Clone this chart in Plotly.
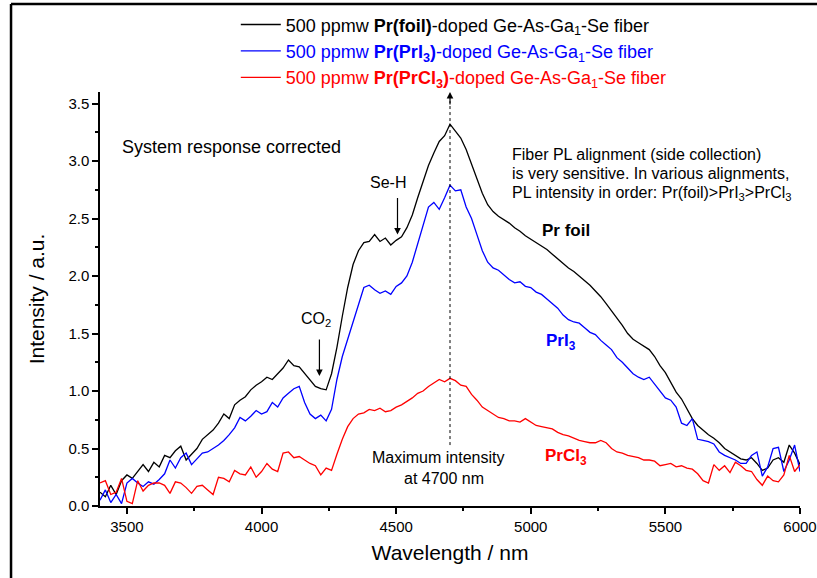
import plotly.graph_objects as go

# Wavelength grid (nm), 20 nm steps from 3400 to 6000
wavelength = list(range(3400, 6001, 20))

pr_foil = [
    0.12, 0.08, 0.18, 0.10, 0.22, 0.27, 0.24, 0.30, 0.36, 0.30,
    0.38, 0.34, 0.44, 0.42, 0.48, 0.52, 0.40, 0.45, 0.50, 0.58,
    0.62, 0.66, 0.72, 0.80, 0.76, 0.88, 0.92, 0.95, 1.01, 1.05,
    1.08, 1.12, 1.10, 1.15, 1.20, 1.27, 1.22, 1.21, 1.15, 1.10,
    1.04, 1.02, 1.01, 1.15, 1.38, 1.65, 1.90, 2.10, 2.22, 2.29,
    2.30, 2.36, 2.30, 2.33, 2.27, 2.31, 2.34, 2.42, 2.53, 2.68,
    2.83, 2.96, 3.07, 3.17, 3.22, 3.32, 3.26, 3.20, 3.10, 2.97,
    2.84, 2.72, 2.62, 2.56, 2.52, 2.49, 2.46, 2.42, 2.39, 2.35,
    2.32, 2.29, 2.26, 2.23, 2.19, 2.15, 2.11, 2.07, 2.04, 2.00,
    1.96, 1.92, 1.87, 1.82, 1.76, 1.70, 1.63, 1.57, 1.50, 1.45,
    1.42, 1.39, 1.36, 1.30, 1.22, 1.16, 1.08, 0.99, 0.93, 0.84,
    0.76, 0.70, 0.66, 0.62, 0.59, 0.55, 0.50, 0.47, 0.44, 0.41,
    0.40, 0.42, 0.37, 0.31, 0.33, 0.40, 0.42, 0.38, 0.53, 0.46, 0.36,
]

pr_pri3 = [
    0.05, 0.14, 0.03, 0.10, 0.02, 0.20, 0.24, 0.20, 0.17, 0.21,
    0.19, 0.23, 0.28, 0.40, 0.33, 0.42, 0.46, 0.36, 0.41, 0.46,
    0.47, 0.50, 0.53, 0.57, 0.62, 0.68, 0.77, 0.74, 0.78, 0.83,
    0.80, 0.82, 0.90, 0.86, 0.94, 0.98, 1.02, 1.04, 0.90, 0.80,
    0.76, 0.79, 0.74, 0.84, 1.10, 1.30, 1.45, 1.60, 1.77, 1.90,
    1.92, 1.88, 1.85, 1.87, 1.84, 1.91, 1.94, 2.00, 2.12, 2.28,
    2.45, 2.60, 2.64, 2.58, 2.68, 2.79, 2.74, 2.75, 2.60, 2.50,
    2.36, 2.22, 2.12, 2.07, 2.05, 2.01, 1.97, 1.94, 1.95, 1.91,
    1.90, 1.86, 1.84, 1.80, 1.76, 1.72, 1.66, 1.62, 1.60, 1.59,
    1.55, 1.51, 1.49, 1.44, 1.40, 1.36, 1.29, 1.25, 1.20, 1.15,
    1.12, 1.10, 1.12, 1.06, 1.00, 0.94, 0.92, 0.86, 0.72, 0.70,
    0.76, 0.58, 0.57, 0.56, 0.54, 0.47, 0.44, 0.42, 0.40, 0.37,
    0.37, 0.44, 0.47, 0.26, 0.34, 0.50, 0.51, 0.30, 0.40, 0.53, 0.30,
]

pr_prcl3 = [
    0.20, 0.22, 0.10, 0.12, 0.24, 0.04, 0.02, 0.22, 0.13, 0.18,
    0.20, 0.20, 0.18, 0.11, 0.21, 0.20, 0.16, 0.11, 0.17, 0.18,
    0.14, 0.10, 0.25, 0.24, 0.21, 0.31, 0.28, 0.27, 0.34, 0.25,
    0.30, 0.37, 0.32, 0.30, 0.46, 0.47, 0.42, 0.43, 0.40, 0.37,
    0.35, 0.27, 0.33, 0.31, 0.45, 0.58, 0.69, 0.76, 0.80, 0.81,
    0.84, 0.83, 0.85, 0.82, 0.83, 0.86, 0.88, 0.91, 0.94, 0.98,
    1.00, 1.04, 1.07, 1.10, 1.08, 1.11, 1.09, 1.05, 1.04, 0.97,
    0.92, 0.86, 0.83, 0.80, 0.77, 0.76, 0.74, 0.74, 0.73, 0.76,
    0.73, 0.70, 0.69, 0.68, 0.67, 0.64, 0.62, 0.61, 0.59, 0.57,
    0.56, 0.55, 0.55, 0.57, 0.55, 0.50, 0.47, 0.46, 0.44, 0.43,
    0.42, 0.40, 0.40, 0.39, 0.35, 0.36, 0.37, 0.34, 0.35, 0.33,
    0.32, 0.28, 0.22, 0.20, 0.36, 0.31, 0.35, 0.29, 0.38, 0.35,
    0.31, 0.30, 0.23, 0.18, 0.26, 0.22, 0.21, 0.27, 0.44, 0.30, 0.36,
]

series_names = [
    "<span style='color:black'>500 ppmw <b>Pr(foil)</b>-doped Ge-As-Ga<sub>1</sub>-Se fiber</span>",
    "<span style='color:blue'>500 ppmw <b>Pr(PrI<sub>3</sub>)</b>-doped Ge-As-Ga<sub>1</sub>-Se fiber</span>",
    "<span style='color:red'>500 ppmw <b>Pr(PrCl<sub>3</sub>)</b>-doped Ge-As-Ga<sub>1</sub>-Se fiber</span>",
]
series_colors = ["black", "blue", "red"]
series_values = [pr_foil, pr_pri3, pr_prcl3]

x_ticks = [3500, 4000, 4500, 5000, 5500, 6000]
y_ticks = [0.0, 0.5, 1.0, 1.5, 2.0, 2.5, 3.0, 3.5]

FONT = "Liberation Sans, Arial, sans-serif"

fig = go.Figure()
for name, col, vals in zip(series_names, series_colors, series_values):
    fig.add_trace(go.Scatter(x=wavelength, y=vals, mode="lines", name=name,
                             line=dict(color=col, width=1.3)))

ann = []
def txt(x, y, t, size=16, color="black", xanchor="center", bold=False):
    ann.append(dict(x=x, y=y, xref="x", yref="y", text=(f"<b>{t}</b>" if bold else t),
                    showarrow=False, xanchor=xanchor, yanchor="middle",
                    font=dict(size=size, color=color, family=FONT)))

txt(3475, 3.12, "System response corrected", size=18, xanchor="left")
txt(4922, 3.06, "Fiber PL alignment (side collection)", size=16, xanchor="left")
txt(4922, 2.89, "is very sensitive. In various alignments,", size=16, xanchor="left")
txt(4922, 2.72, "PL intensity in order: Pr(foil)&gt;PrI<sub>3</sub>&gt;PrCl<sub>3</sub>", size=16, xanchor="left")
txt(5130, 2.40, "Pr foil", size=17, bold=True)
txt(5111, 1.43, "PrI<sub>3</sub>", size=17, color="blue", bold=True)
txt(5130, 0.43, "PrCl<sub>3</sub>", size=17, color="red", bold=True)
txt(4655, 0.42, "Maximum intensity", size=16)
txt(4676, 0.24, "at 4700 nm", size=16)
txt(4204, 1.62, "CO<sub>2</sub>", size=16)
txt(4468, 2.81, "Se-H", size=16)

# arrows
for (ax_x, tip_y) in [(4215, 1.13), (4505, 2.36)]:
    ann.append(dict(x=ax_x, y=tip_y, xref="x", yref="y", text="", showarrow=True,
                    ax=0, ay=-38, arrowhead=2, arrowsize=1.1, arrowwidth=1.2,
                    arrowcolor="black"))
ann.append(dict(x=4700, y=3.6, xref="x", yref="y", text="", showarrow=True,
                ax=0, ay=14, arrowhead=2, arrowsize=1.1, arrowwidth=1.2,
                arrowcolor="black"))

shapes = [
    dict(type="line", xref="x", yref="y", x0=4700, x1=4700, y0=0.53, y1=3.52,
         line=dict(color="black", width=1, dash="3px,3px")),
    dict(type="line", xref="paper", yref="paper", x0=-0.1271, x1=-0.1271, y0=-0.18, y1=1.2126,
         line=dict(color="black", width=2.5)),
    dict(type="line", xref="paper", yref="paper", x0=-0.1271, x1=1.05, y0=1.2126, y1=1.2126,
         line=dict(color="black", width=2.5)),
]

fig.update_layout(
    width=817, height=578,
    margin=dict(l=100, r=17, t=92, b=72, autoexpand=False),
    paper_bgcolor="white", plot_bgcolor="white",
    font=dict(family=FONT, color="black", size=15),
    annotations=ann, shapes=shapes,
    showlegend=True,
    legend=dict(x=0.194, y=1.207, xanchor="left", yanchor="top",
                bgcolor="rgba(0,0,0,0)", font=dict(size=18, family=FONT),
                itemwidth=40, tracegroupgap=0),
    xaxis=dict(range=[3400, 6000], tickvals=x_ticks, showline=True, linecolor="black",
               linewidth=1.5, ticks="outside", ticklen=6, tickwidth=1.5, tickcolor="black",
               showgrid=False, zeroline=False, mirror=False, automargin=False,
               minor=dict(dtick=250, ticks="outside", ticklen=3, tickwidth=1.5, tickcolor="black", showgrid=False),
               tickfont=dict(size=15),
               title=dict(text="Wavelength / nm", font=dict(size=21), standoff=12)),
    yaxis=dict(range=[0, 3.6], tickvals=y_ticks, tickformat=".1f", showline=True, linecolor="black",
               linewidth=1.5, ticks="outside", ticklen=6, tickwidth=1.5, tickcolor="black",
               showgrid=False, zeroline=False, mirror=False, automargin=False,
               minor=dict(dtick=0.25, ticks="outside", ticklen=3, tickwidth=1.5, tickcolor="black", showgrid=False),
               tickfont=dict(size=15),
               title=dict(text="Intensity / a.u.", font=dict(size=21), standoff=18)),
)

fig.write_html("out.html")
